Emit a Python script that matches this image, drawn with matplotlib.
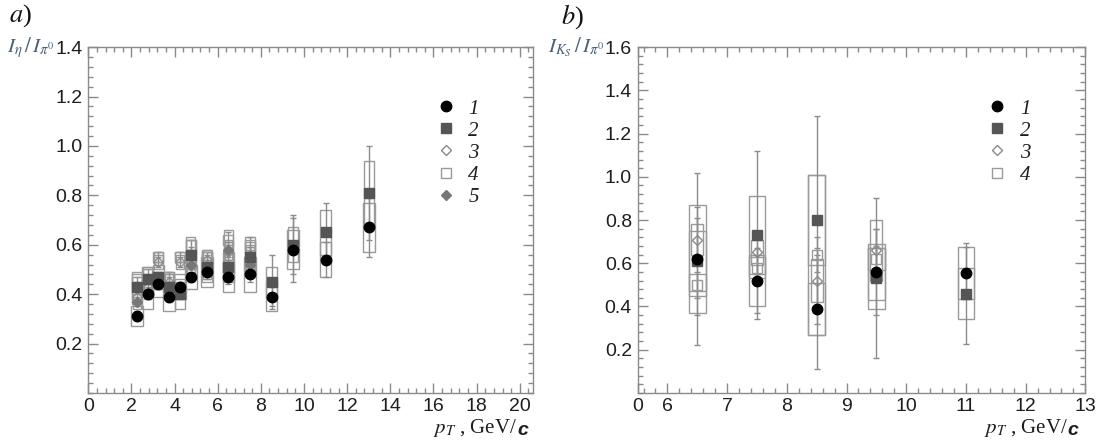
import numpy as np
import matplotlib
matplotlib.use('Agg')
import matplotlib.pyplot as plt
from matplotlib.patches import Rectangle
from matplotlib.lines import Line2D
from matplotlib.ticker import MultipleLocator, FixedLocator, FixedFormatter
from matplotlib.font_manager import FontProperties

plt.rcParams['mathtext.fontset'] = 'stix'
nan = np.nan

# ---------------- Panel a : I_eta / I_pi0 ----------------
pt_a = [2.25, 2.75, 3.25, 3.75, 4.25, 4.75, 5.5, 6.5, 7.5, 8.5, 9.5, 11.0, 13.0]
a1 = [0.31, 0.40, 0.44, 0.39, 0.43, 0.47, 0.49, 0.47, 0.48, 0.39, 0.58, 0.54, 0.67]
a1_err = [0.02, 0.02, 0.02, 0.02, 0.02, 0.02, 0.03, 0.03, 0.03, 0.04, 0.13, 0.07, 0.12]
a1_sys = [0.04, 0.06, 0.05, 0.06, 0.05, 0.05, 0.06, 0.06, 0.07, 0.06, 0.08, 0.07, 0.10]
a2 = [0.43, 0.46, 0.47, 0.43, 0.40, 0.56, 0.51, 0.51, 0.55, 0.45, 0.60, 0.65, 0.81]
a2_err = [0.02, 0.02, 0.02, 0.02, 0.02, 0.03, 0.03, 0.03, 0.04, 0.11, 0.12, 0.12, 0.19]
a2_sys = [0.06, 0.05, 0.05, 0.05, 0.06, 0.06, 0.06, 0.06, 0.06, 0.06, 0.07, 0.09, 0.13]
a3 = [0.39, 0.43, 0.53, 0.45, 0.53, 0.52, 0.54, 0.57, 0.56, nan, nan, nan, nan]
a3_err = [0.02, 0.02, 0.02, 0.02, 0.02, 0.02, 0.02, 0.03, 0.03, nan, nan, nan, nan]
a3_sys = [0.03, 0.03, 0.03, 0.03, 0.03, 0.04, 0.04, 0.04, 0.04, nan, nan, nan, nan]
a4 = [0.45, 0.48, 0.55, 0.47, 0.55, 0.60, 0.55, 0.62, 0.60, nan, nan, nan, nan]
a4_err = [0.02, 0.02, 0.02, 0.02, 0.02, 0.02, 0.02, 0.03, 0.03, nan, nan, nan, nan]
a4_sys = [0.03, 0.03, 0.02, 0.02, 0.02, 0.03, 0.03, 0.04, 0.03, nan, nan, nan, nan]
a5 = [0.37, 0.41, 0.45, 0.42, 0.42, 0.52, 0.50, 0.58, 0.52, nan, nan, nan, nan]
a5_err = [0.02, 0.02, 0.02, 0.02, 0.02, 0.02, 0.02, 0.03, 0.03, nan, nan, nan, nan]
a5_sys = [0.03, 0.03, 0.03, 0.03, 0.03, 0.04, 0.04, 0.04, 0.04, nan, nan, nan, nan]

# ---------------- Panel b : I_KS / I_pi0 ----------------
pt_b = [6.5, 7.5, 8.5, 9.5, 11.0]
b1 = [0.62, 0.52, 0.39, 0.56, 0.555]
b1_err = [0.40, 0.15, 0.28, 0.20, 0.12]
b1_sys = [0.25, 0.12, 0.12, 0.13, 0.12]
b2 = [0.61, 0.73, 0.80, 0.53, 0.46]
b2_err = [0.25, 0.39, 0.48, 0.37, 0.235]
b2_sys = [0.14, 0.18, 0.21, 0.14, 0.12]
b3 = [0.71, 0.65, 0.52, 0.66, nan]
b3_err = [0.10, 0.10, 0.12, 0.10, nan]
b3_sys = [0.07, 0.06, 0.10, 0.14, nan]
b4 = [0.50, 0.58, 0.64, 0.62, nan]
b4_err = [0.06, 0.06, 0.08, 0.06, nan]
b4_sys = [0.05, 0.05, 0.37, 0.05, nan]

labels = ['1', '2', '3', '4', '5']

# marker styles: (marker, facecolor, edgecolor, size)
styles = {
    '1': ('o', '#000000', '#000000', 7.5),
    '2': ('s', '#555555', '#555555', 7.0),
    '3': ('D', 'none', '#8a8a8a', 5.5),
    '4': ('s', 'none', '#9a9a9a', 6.5),
    '5': ('D', '#777777', '#777777', 5.5),
}

BOX_C = '#9a9a9a'
ERR_C = '#8c8c8c'
TXT_C = '#1e1e1e'
AX_C = '#8a8a8a'
LAB_C = '#46607a'

fig = plt.figure(figsize=(11.03, 4.45), dpi=100)
axa = fig.add_axes([0.080, 0.117, 0.403, 0.777])
axb = fig.add_axes([0.578, 0.117, 0.406, 0.777])


def draw_series(ax, x, y, err, sys, halfw, lab, draw_marker):
    x = np.asarray(x, float)
    y = np.asarray(y, float)
    err = np.asarray(err, float)
    sys = np.asarray(sys, float)
    m = ~np.isnan(y)
    mk, fc, ec, ms = styles[lab]
    if not draw_marker:
        for xi, yi, si in zip(x[m], y[m], sys[m]):
            ax.add_patch(Rectangle((xi - halfw, yi - si), 2 * halfw, 2 * si,
                                   fill=False, ec=BOX_C, lw=1.0, zorder=2))
        ax.errorbar(x[m], y[m], yerr=err[m], fmt='none', ecolor=ERR_C,
                    elinewidth=1.0, capsize=2.5, capthick=1.0, zorder=3)
    else:
        ax.plot(x[m], y[m], ls='none', marker=mk, mfc=fc, mec=ec, ms=ms,
                mew=1.0, zorder=5)


series_a = [(a1, a1_err, a1_sys, '1', 0.27), (a2, a2_err, a2_sys, '2', 0.24),
            (a3, a3_err, a3_sys, '3', 0.20), (a4, a4_err, a4_sys, '4', 0.22),
            (a5, a5_err, a5_sys, '5', 0.18)]
series_b = [(b1, b1_err, b1_sys, '1', 0.14), (b2, b2_err, b2_sys, '2', 0.14),
            (b3, b3_err, b3_sys, '3', 0.10), (b4, b4_err, b4_sys, '4', 0.14)]

for ax, pts, series in ((axa, pt_a, series_a), (axb, pt_b, series_b)):
    for y, e, s, lab, hw in series:
        draw_series(ax, pts, y, e, s, hw, lab, False)
    order = ['4', '3', '5', '2', '1']
    for lab in order:
        for y, e, s, l2, hw in series:
            if l2 == lab:
                draw_series(ax, pts, y, e, s, hw, lab, True)

# axes limits & ticks
axa.set_xlim(0, 20.6)
axa.set_ylim(0, 1.4)
axa.xaxis.set_major_locator(FixedLocator(np.arange(0, 21, 2)))
axa.xaxis.set_major_formatter(FixedFormatter([str(v) for v in range(0, 21, 2)]))
axa.xaxis.set_minor_locator(MultipleLocator(0.4))
axa.yaxis.set_major_locator(FixedLocator(np.arange(0.2, 1.41, 0.2)))
axa.yaxis.set_major_formatter(FixedFormatter(['%.1f' % v for v in np.arange(0.2, 1.41, 0.2)]))
axa.yaxis.set_minor_locator(MultipleLocator(0.04))

xb_ticks = [5.5, 6, 7, 8, 9, 10, 11, 12, 13]
xb_labels = ['0', '6', '7', '8', '9', '10', '11', '12', '13']
axb.set_xlim(5.5, 13)
axb.set_ylim(0, 1.6)
axb.xaxis.set_major_locator(FixedLocator(xb_ticks))
axb.xaxis.set_major_formatter(FixedFormatter(xb_labels))
axb.xaxis.set_minor_locator(MultipleLocator(0.2))
axb.yaxis.set_major_locator(FixedLocator(np.arange(0.2, 1.61, 0.2)))
axb.yaxis.set_major_formatter(FixedFormatter(['%.1f' % v for v in np.arange(0.2, 1.61, 0.2)]))
axb.yaxis.set_minor_locator(MultipleLocator(0.04))

for ax in (axa, axb):
    for sp in ax.spines.values():
        sp.set_color(AX_C)
        sp.set_linewidth(1.0)
    ax.tick_params(which='both', direction='in', top=True, right=True,
                   color=AX_C, width=1.0)
    ax.tick_params(which='major', length=7, labelsize=14, labelcolor=TXT_C, pad=4)
    ax.tick_params(which='minor', length=3.5)
    for lbl in ax.get_xticklabels() + ax.get_yticklabels():
        lbl.set_family('Liberation Sans')

# legends
leg_font = FontProperties(family='Liberation Serif', style='italic', size=15)
for ax, series in ((axa, series_a), (axb, series_b)):
    handles = []
    for y, e, s, lab, hw in series:
        mk, fc, ec, ms = styles[lab]
        handles.append(Line2D([], [], ls='none', marker=mk, mfc=fc, mec=ec,
                              ms=ms, mew=1.0, label=lab))
    leg = ax.legend(handles=handles, loc='upper left', bbox_to_anchor=(0.785, 0.85),
                    frameon=False, prop=leg_font, handlelength=0.8,
                    handletextpad=0.7, labelspacing=0.12, borderaxespad=0,
                    borderpad=0)
    for t in leg.get_texts():
        t.set_color(TXT_C)

# y labels
axa.text(-0.075, 1.0, r'$I_{\eta}\,/\,I_{\pi^0}$', transform=axa.transAxes,
         ha='right', va='center', fontsize=15, color=LAB_C)
axb.text(-0.075, 1.0, r'$I_{K_S}\,/\,I_{\pi^0}$', transform=axb.transAxes,
         ha='right', va='center', fontsize=15, color=LAB_C)

# x labels
for ax, xr in ((axa, 0.99), (axb, 0.985)):
    ct = ax.text(xr, -0.122, 'c', transform=ax.transAxes, ha='right',
                 va='baseline', fontsize=14, color=TXT_C,
                 family='Liberation Sans', style='italic', weight='bold')
    ax.annotate(r'$p_T$ , GeV/', xy=(0, 0), xycoords=ct, ha='right',
                va='bottom', fontsize=15, color=TXT_C, family='Liberation Serif',
                annotation_clip=False)

# panel labels
fig.text(0.008, 0.995, r'$a$)', fontsize=19, family='Liberation Serif',
         color='#111111', va='top')
fig.text(0.509, 0.995, r'$b$)', fontsize=19, family='Liberation Serif',
         color='#111111', va='top')

fig.savefig('out.png', dpi=100)
